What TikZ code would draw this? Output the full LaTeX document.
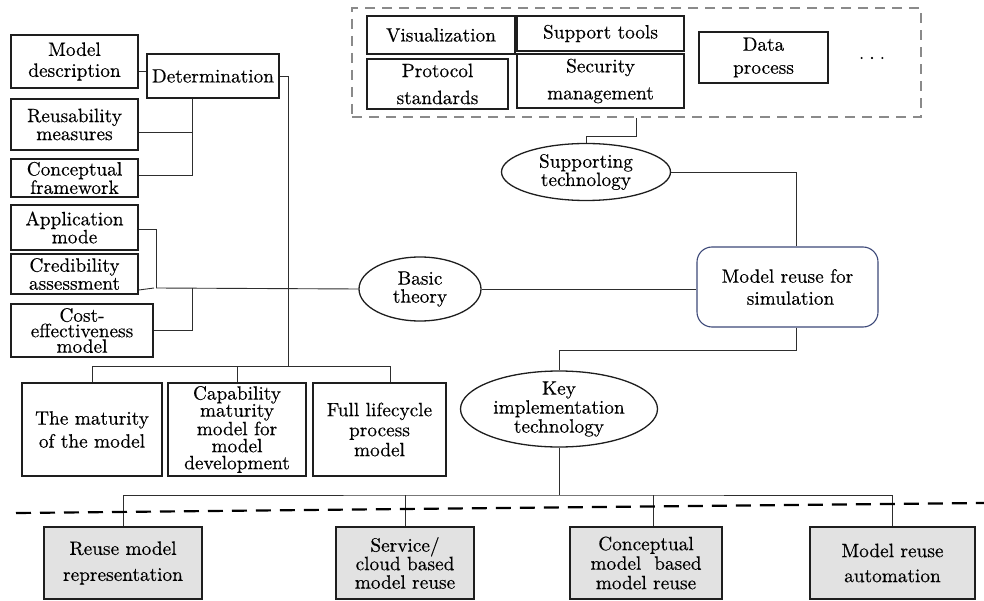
\documentclass[tikz,border=0pt]{standalone}
\usepackage{fontspec}
\setmainfont{lmroman10-regular}[Extension=.otf, FakeBold=0.35]
\usetikzlibrary{shapes.geometric}
\definecolor{boxline}{HTML}{1E1E1E}
\definecolor{conn}{HTML}{2E2E2E}
\definecolor{dashgray}{HTML}{8A8A8A}
\definecolor{mrline}{HTML}{3C4878}
\definecolor{bfill}{HTML}{E2E2E2}
\begin{document}
\begin{tikzpicture}[x=1pt,y=-1pt,
  ls/.style={font=\fontsize{19.3}{#1}\selectfont},
  ls/.default=20,
  wh/.style 2 args={minimum width=#1pt, minimum height=#2pt},
  tbox/.style={draw=boxline, line width=1.6pt, inner sep=0pt, align=center, ls},
  sbox/.style={draw=boxline, line width=1.3pt, inner sep=0pt, align=center, ls},
  gbox/.style={draw=boxline, fill=bfill, line width=1.6pt, inner sep=0pt, align=center, ls},
  ell/.style={draw=boxline, ellipse, line width=1.3pt, inner sep=0pt},
  con/.style={draw=conn, line width=0.9pt},
  grpbox/.style={draw=dashgray, line width=1.3pt, dash pattern=on 10pt off 7pt, inner sep=0pt},
  sep/.style={draw=black, line width=2.2pt, dash pattern=on 15pt off 9pt}
]
\useasboundingbox (0,0) rectangle (984,601);

% left column
\node[tbox, wh={127}{53}, ls=21] (md) at (74.5,61.5) {Model\\description};
\node[tbox, wh={132}{44}] (det) at (213,76) {Determination};
\node[tbox, wh={127}{51}, ls=18] (reu) at (74.5,124.5) {Reusability\\measures};
\node[tbox, wh={127}{38}, ls=16.5] (cnc) at (74.5,178) {Conceptual\\framework};
\node[tbox, wh={127}{45}, ls=18] (app) at (74.5,227.5) {Application\\mode};
\node[tbox, wh={127}{40}, ls=18] (cred) at (74.5,274) {Credibility\\assessment};
\node[tbox, wh={142}{53}, ls=15.5] (cost) at (82,330.5) {Cost-\\effectiveness\\model};

% middle row of boxes
\node[tbox, wh={140}{93}, ls=23] (mat) at (92,429.5) {The maturity\\of the model};
\node[tbox, wh={138}{93}, ls=17] (cap) at (237,429.5) {Capability\\maturity\\model for\\model\\development};
\node[tbox, wh={133}{93}, ls=20] (full) at (379.5,429.5) {Full lifecycle\\process\\model};

% ellipses
\node[ell, minimum width=122pt, minimum height=64pt,
  label={[ls=18, align=center]center:Basic\\theory}] (basic) at (420,289) {};
\node[ell, minimum width=169pt, minimum height=57pt,
  label={[ls=16.5, align=center]center:Supporting\\technology}] (sup) at (586,172) {};
\node[ell, minimum width=197pt, minimum height=76pt,
  label={[ls=19, align=center]center:Key\\implementation\\technology}] (key) at (559,409) {};

% central box
\node[draw=mrline, line width=1.1pt, rounded corners=15pt, wh={181}{80},
  inner sep=0pt, align=center, ls=22] (mr) at (787.5,287) {Model reuse for\\\hspace*{6pt}simulation};

% top group
\node[grpbox, wh={569}{109}] (tools) at (636.5,62.5) {};
\node[sbox, wh={148}{38}] (vis) at (441,35) {Visualization};
\node[sbox, wh={167}{35}] (st) at (600.5,33.5) {Support tools};
\node[sbox, wh={141}{50}, ls=27] (ps) at (437.5,84) {Protocol\\standards};
\node[sbox, wh={167}{54}, ls=27] (sm) at (600.5,81) {Security\\management};
\node[sbox, wh={129}{51}, ls=23] (dp) at (763.5,57.5) {Data\\process};
\node[ls] (dots) at (872,58) {.\kern5pt.\kern5pt.};

% bottom boxes
\node[gbox, wh={158}{72}, ls=26] (bb1) at (123,563) {Reuse model\\representation};
\node[gbox, wh={138}{72}, ls=18.5] (bb2) at (405,563) {Service/\\cloud based\\model reuse};
\node[gbox, wh={152}{72}, ls=19.5] (bb3) at (646,563) {Conceptual\\model \ based\\model reuse};
\node[gbox, wh={165}{72}, ls=25] (bb4) at (892.5,563) {Model reuse\\automation};

% junction coordinates
\coordinate (jl) at (288,366);
\coordinate (jb) at (156,288);
\coordinate (jc) at (192,288);
\coordinate (js) at (636.5,136);
\coordinate (jk) at (559,350);
\coordinate (jm) at (559,495);
\coordinate (sl) at (16,513);
\coordinate (sr) at (984,503);

% connectors: left part
\draw[con] ([yshift=-9.5pt]md.east) -- ([yshift=-9.5pt]md.east -| det.west);
\draw[con] (det.east) -| (jl);
\draw[con] ([xshift=-21pt]det.south) |- ([yshift=3pt]cnc.east);
\draw[con] ([yshift=-7.5pt]reu.east) -| ([xshift=-21pt]det.south);
\draw[con] ([yshift=-1.5pt]app.east) -| (jb);
\draw[con] ([yshift=-16pt]cred.east) -- ([xshift=-2pt]jb);
\draw[con] (jb) -- (basic.west);
\draw[con] (cost.east) -| (jc);
\draw[con] (mat.north) |- (jl);
\draw[con] (jl) -| ([xshift=10.5pt]full.north);
\draw[con] (cap.north) -- (cap.north |- jl);

% connectors: right part
\draw[con] (basic.east) -- (basic.east -| mr.west);
\draw[con] (sup.east) -| ([xshift=8.5pt]mr.north);
\draw[con] (sup.north) |- (js) -- (tools.south);
\draw[con] ([xshift=8.5pt]mr.south) |- (jk) -- (key.north);
\draw[con] (key.south) -- (jm);
\draw[con] (bb1.north) |- (jm) -| (bb4.north);
\draw[con] (bb2.north) -- (bb2.north |- jm);
\draw[con] ([xshift=7pt]bb3.north) -- ([xshift=7pt]bb3.north |- jm);

% separator
\draw[sep] (sl) -- (sr);
\end{tikzpicture}
\end{document}
